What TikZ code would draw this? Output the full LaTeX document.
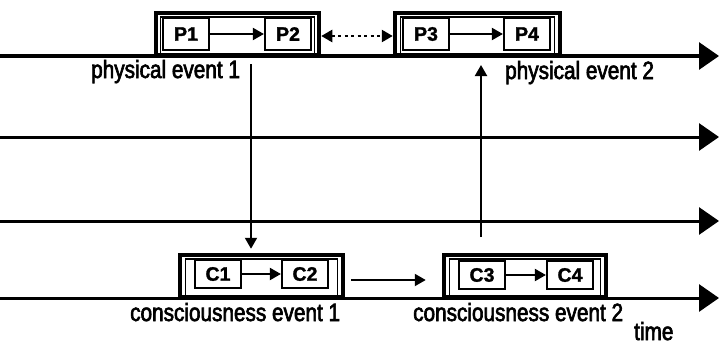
\documentclass[tikz,border=0pt]{standalone}
\usepackage{fontspec}
\setmainfont{Liberation Sans}
\newfontfamily\labelfont[FakeStretch=0.83,FakeBold=2.5]{Liberation Sans}
\newfontfamily\tagfont[FakeBold=1.5]{Liberation Sans Bold}
\usetikzlibrary{arrows.meta}

\begin{document}
\begin{tikzpicture}[x=1pt,y=-1pt,
  >={Triangle[length=11pt,width=12pt]},
  timeline/.style={line width=3pt,-{Triangle[length=20pt,width=27pt]}},
  outerbox/.style={draw,line width=4.5pt,minimum height=42pt,inner sep=0pt},
  innerbox/.style={draw,line width=1.2pt,minimum height=37pt,inner sep=0pt},
  evbox/.style={draw,fill=white,line width=2.2pt,minimum width=46pt,inner sep=0pt,
    font=\tagfont\fontsize{19.5}{19.5}\selectfont},
  pbox/.style={evbox,minimum height=32pt},
  cbox/.style={evbox,minimum height=28pt},
  link/.style={line width=2pt,->},
  evlabel/.style={anchor=base west,inner sep=0pt,
    font=\labelfont\fontsize{25}{25}\selectfont}]
\useasboundingbox (0,0) rectangle (719,345);

% time axes
\coordinate (t1s) at (0,56);   \coordinate (t1e) at (719,56);
\coordinate (t2s) at (0,137);  \coordinate (t2e) at (719,137);
\coordinate (t3s) at (0,221);  \coordinate (t3e) at (719,221);
\coordinate (t4s) at (0,298);  \coordinate (t4e) at (719,298);
\foreach \i in {1,...,4} \draw[timeline] (t\i s) -- (t\i e);

% physical events
\node[outerbox,minimum width=163pt] (pev1) at (237.5,34) {};
\node[innerbox,minimum width=154pt] (pev1in) at (237.5,35.5) {};
\node[pbox] (p1) at (186,34) {P1};
\node[pbox] (p2) at (288,34) {P2};

\node[outerbox,minimum width=165pt] (pev2) at (477.5,34) {};
\node[innerbox,minimum width=154pt] (pev2in) at (477.5,35.5) {};
\node[pbox] (p3) at (426,34) {P3};
\node[pbox] (p4) at (527,34) {P4};

% consciousness events
\node[outerbox,minimum width=163pt] (cev1) at (261.5,276) {};
\node[innerbox,minimum width=152pt] (cev1in) at (261.5,277.5) {};
\node[cbox] (c1) at (218,274) {C1};
\node[cbox] (c2) at (305,274) {C2};

\node[outerbox,minimum width=162pt] (cev2) at (525,276) {};
\node[innerbox,minimum width=151pt] (cev2in) at (525,277.5) {};
\node[cbox] (c3) at (482,275) {C3};
\node[cbox] (c4) at (570,275) {C4};

% links inside the events
\draw[link] (p1) -- (p2);
\draw[link] (p3) -- (p4);
\draw[link] (c1) -- (c2);
\draw[link] (c3) -- (c4);

% dotted two-way link between the physical events
\draw[line width=2.5pt,dash pattern=on 3pt off 3.5pt,<->]
  ([yshift=-2pt]pev1.east) -- ([yshift=-2pt]pev2.west);

% link between the consciousness events
\draw[link,shorten <=6pt,shorten >=16pt] ([yshift=-4pt]cev1.east) -- ([yshift=-4pt]cev2.west);

% causal links between the levels
\coordinate (down) at (251,64);
\draw[link,shorten >=4pt] (down) -- (cev1.north -| down);
\coordinate (up) at (481,237);
\coordinate (uptip) at (481,65);
\draw[link] (up) -- (uptip);

% labels
\node[evlabel] (lp1) at (91,78) {physical event 1};
\node[evlabel] (lp2) at (505,79) {physical event 2};
\node[evlabel] (lc1) at (130,321) {consciousness event 1};
\node[evlabel] (lc2) at (413,321) {consciousness event 2};
\node[evlabel] (ltime) at (634,340) {time};
\end{tikzpicture}
\end{document}
